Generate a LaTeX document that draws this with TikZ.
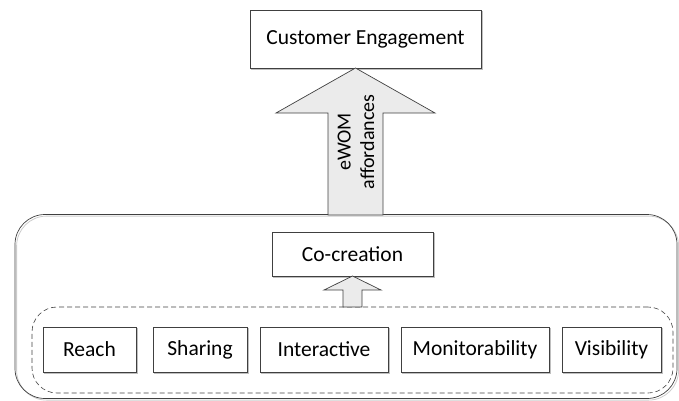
\documentclass[tikz,border=0pt]{standalone}
\usepackage{fontspec}
\setmainfont{Carlito}
\begin{document}
\begin{tikzpicture}[x=1pt,y=-1pt,
  lbl/.style={font=\fontsize{21.5}{25}\selectfont, text=black},
  boxsh/.style={fill=white, draw=black!75, line width=0.7pt, rectangle, inner sep=0pt,
     preaction={draw=black!25, line width=0.8pt, transform canvas={shift={(1.6pt,-1.6pt)}}}},
  outerbox/.style={draw=black!75, line width=0.7pt, rounded corners=30pt, minimum width=662pt, minimum height=184pt, inner sep=0pt,
     preaction={draw=black!20, line width=0.8pt, transform canvas={shift={(1.6pt,-1.6pt)}}}},
  dashbox/.style={draw=black!75, dash pattern=on 5pt off 3pt, line width=0.6pt, rounded corners=25pt, minimum width=641pt, minimum height=86pt, inner sep=0pt},
  arrowfill/.style={draw=black!75, line width=0.7pt, fill=black!8, line join=miter}
]
\useasboundingbox (0,0) rectangle (679,400);

\node[outerbox] (outer) at (346,306.5) {};
\node[dashbox] (dash) at (352.5,350) {};

\node[boxsh, lbl, minimum width=231pt, minimum height=58pt] (ce) at (365.5,39) {Customer Engagement};
\node[boxsh, lbl, minimum width=161pt, minimum height=44pt] (cc) at (352.5,254) {Co-creation};

\node[boxsh, lbl, minimum width=93pt, minimum height=45pt] (reach) at (89.5,349.5) {Reach};
\node[boxsh, lbl, minimum width=94pt, minimum height=45pt] (share) at (200,349.5) {Sharing};
\node[boxsh, lbl, minimum width=128pt, minimum height=45pt] (inter) at (324,349.5) {Interactive};
\node[boxsh, lbl, minimum width=148pt, minimum height=45pt] (moni) at (475,349.5) {Monitorability};
\node[boxsh, lbl, minimum width=99pt, minimum height=45pt] (visi) at (611.5,349.5) {Visibility};

% big arrow from outer box to Customer Engagement
\draw[arrowfill] (355.5,68) -- (435,113) -- (383,113) -- (383,215) -- (328,215) -- (328,113) -- (276,113) -- cycle;
\node[rotate=90, align=center, font=\fontsize{20}{23.5}\selectfont, text=black] (ewom) at (356,142) {eWOM\\affordances};

% small arrow from dashed group to Co-creation
\draw[arrowfill] (352.5,276) -- (381,290) -- (362,290) -- (362,307) -- (343,307) -- (343,290) -- (324,290) -- cycle;
\end{tikzpicture}
\end{document}
